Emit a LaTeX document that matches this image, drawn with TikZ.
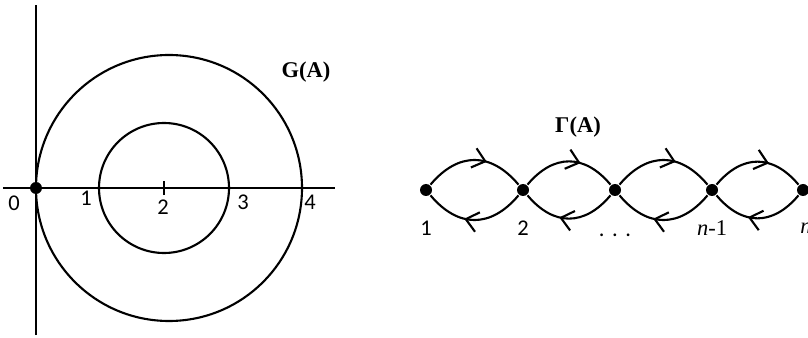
\documentclass[tikz,border=0pt]{standalone}
\usepackage{fontspec}
\setmainfont{Carlito}
\newfontfamily\titlefont{Liberation Serif}
\usetikzlibrary{arrows.meta,decorations.markings}
\tikzset{
  vertex/.style={circle,fill,inner sep=0pt,minimum size=3mm},
  numlabel/.style={font=\fontsize{16}{18}\selectfont},
  serlabel/.style={font=\titlefont\fontsize{16}{18}\selectfont},
  titlelabel/.style={font=\titlefont\bfseries\fontsize{16}{18}\selectfont},
  midarrow/.style={postaction={decorate},decoration={markings,
    mark=at position #1 with {\arrow{Straight Barb[length=3mm,width=5mm,line width=1.5pt]}}}},
  uparc/.style={out=50,in=130,looseness=1.25},
  downarc/.style={out=-130,in=-50,looseness=1.25}
}
\begin{document}
\begin{tikzpicture}[line width=1.5pt]
\useasboundingbox (0,0) rectangle (20.2,8.425);
% left picture: the disks
\draw (0.9,0.05) -- (0.9,8.3);
\draw (0.075,3.725) -- (8.375,3.725);
\draw (4.225,3.725) circle (3.325);
\draw (4.1,3.725) circle (1.625);
\draw (4.1,3.545) -- (4.1,3.905);
\node[vertex] (o) at (0.9,3.725) {};
\node[numlabel] (l0) at (0.35,3.35) {0};
\node[numlabel] (l1) at (2.15,3.475) {1};
\node[numlabel] (l2) at (4.075,3.25) {2};
\node[numlabel] (l3) at (6.075,3.375) {3};
\node[numlabel] (l4) at (7.75,3.375) {4};
\node[titlelabel] (ga) at (7.65,6.625) {G(A)};
% right picture: the graph
\node[titlelabel] (gam) at (14.45,5.25) {Γ(A)};
\node[vertex] (v1) at (10.65,3.675) {};
\node[vertex] (v2) at (13.075,3.675) {};
\node[vertex] (v3) at (15.375,3.675) {};
\node[vertex] (v4) at (17.8,3.675) {};
\node[vertex] (v5) at (20.075,3.675) {};
\foreach \a/\b in {v1/v2,v2/v3,v3/v4,v4/v5} {
  \draw[midarrow=0.62] (\a) to[uparc] (\b);
  \draw[midarrow=0.6] (\b) to[downarc] (\a);
}
\node[numlabel] (t1) at (10.65,2.725) {1};
\node[numlabel] (t2) at (13.075,2.725) {2};
\node[numlabel] (t3) at (15.375,2.55) {.\,\,.\,\,.};
\node[serlabel] (t4) at (17.8,2.725) {\textit{n}-1};
\node[serlabel] (t5) at (20.15,2.725) {\textit{n}};
\end{tikzpicture}
\end{document}
